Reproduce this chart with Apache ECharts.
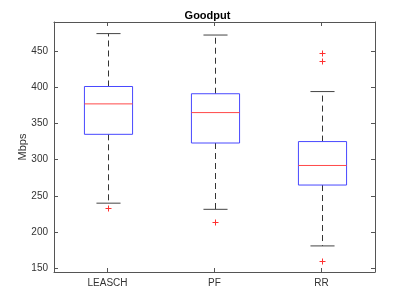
<!DOCTYPE html>
<html>
<head>
<meta charset="utf-8">
<script src="https://cdn.jsdelivr.net/npm/echarts@6/dist/echarts.min.js"></script>
<style>
html,body{margin:0;padding:0;background:#fff;}
#chart{width:415px;height:306px;}
</style>
</head>
<body>
<div id="chart"></div>
<script>
var categories = ['LEASCH', 'PF', 'RR'];
var lowerWhisker = [240, 231.5, 181];
var q1 = [335, 323, 265];
var median = [377, 365, 292];
var q3 = [401, 391, 325];
var upperWhisker = [474, 472, 394];
var outliers = [[0, 234], [1, 214], [2, 447], [2, 436], [2, 160.5]];
var yTicks = [150, 200, 250, 300, 350, 400, 450];

var boxData = categories.map(function (c, i) {
  return [i, lowerWhisker[i], q1[i], median[i], q3[i], upperWhisker[i]];
});

var chart = echarts.init(document.getElementById('chart'), null, {renderer: 'canvas'});
var axisColor = '#555';
var textColor = '#333';
var font = 'Liberation Sans, Arial, sans-serif';

function renderBox(params, api) {
  var i = api.value(0);
  var band = api.size([1, 0])[0];
  var boxW = band * 0.45;
  var capW = band * 0.225;
  var pLo = api.coord([i, api.value(1)]);
  var pQ1 = api.coord([i, api.value(2)]);
  var pMed = api.coord([i, api.value(3)]);
  var pQ3 = api.coord([i, api.value(4)]);
  var pHi = api.coord([i, api.value(5)]);
  var x = Math.round(pQ1[0]) + 0.5;
  var dashStyle = {stroke: '#333', lineWidth: 1, lineDash: [6, 4]};
  var capStyle = {stroke: '#444', lineWidth: 1};
  return {
    type: 'group',
    children: [
      {type: 'line', shape: {x1: x, y1: pQ3[1], x2: x, y2: pHi[1]}, style: dashStyle},
      {type: 'line', shape: {x1: x, y1: pQ1[1], x2: x, y2: pLo[1]}, style: dashStyle},
      {type: 'line', shape: {x1: x - capW / 2, y1: pHi[1], x2: x + capW / 2, y2: pHi[1]}, style: capStyle},
      {type: 'line', shape: {x1: x - capW / 2, y1: pLo[1], x2: x + capW / 2, y2: pLo[1]}, style: capStyle},
      {type: 'rect', shape: {x: x - boxW / 2, y: pQ3[1], width: boxW, height: pQ1[1] - pQ3[1]},
        style: {fill: 'rgba(0,0,0,0)', stroke: '#4848ff', lineWidth: 1}},
      {type: 'line', shape: {x1: x - boxW / 2, y1: pMed[1], x2: x + boxW / 2, y2: pMed[1]},
        style: {stroke: '#ff4848', lineWidth: 1}}
    ]
  };
}

function renderOutlier(params, api) {
  var p = api.coord([api.value(0), api.value(1)]);
  var x = Math.round(p[0]) + 0.5;
  var y = Math.round(p[1]) + 0.5;
  var r = 3;
  var st = {stroke: '#ff3030', lineWidth: 1};
  return {
    type: 'group',
    children: [
      {type: 'line', shape: {x1: x - r, y1: y, x2: x + r, y2: y}, style: st},
      {type: 'line', shape: {x1: x, y1: y - r, x2: x, y2: y + r}, style: st}
    ]
  };
}

var yCommon = {
  type: 'value', min: 145, max: 490,
  splitLine: {show: false},
  axisLine: {show: true, lineStyle: {color: axisColor}},
  axisTick: {show: true, inside: true, length: 4, customValues: yTicks, lineStyle: {color: axisColor}}
};

var option = {
  animation: false,
  backgroundColor: '#fff',
  title: {
    text: 'Goodput', left: 'center', top: 5,
    textStyle: {fontFamily: font, fontSize: 11, fontWeight: 'bold', color: '#000'}
  },
  grid: {left: 54, right: 40, top: 22, bottom: 34, containLabel: false},
  xAxis: [
    {
      type: 'category', data: categories, boundaryGap: true, position: 'bottom',
      axisLine: {show: true, lineStyle: {color: axisColor}},
      axisTick: {show: true, inside: true, length: 4, alignWithLabel: true, lineStyle: {color: axisColor}},
      axisLabel: {color: textColor, fontFamily: font, fontSize: 10, margin: 6},
      splitLine: {show: false}
    },
    {
      type: 'category', data: categories, boundaryGap: true, position: 'top',
      axisLine: {show: true, lineStyle: {color: axisColor}},
      axisTick: {show: true, inside: true, length: 4, alignWithLabel: true, lineStyle: {color: axisColor}},
      axisLabel: {show: false},
      splitLine: {show: false}
    }
  ],
  yAxis: [
    Object.assign({}, yCommon, {
      position: 'left',
      name: 'Mbps', nameLocation: 'middle', nameGap: 26, nameRotate: 90, nameMoveOverlap: false,
      nameTextStyle: {color: textColor, fontFamily: font, fontSize: 11},
      axisLabel: {show: true, customValues: yTicks, color: textColor, fontFamily: font, fontSize: 10, margin: 6}
    }),
    Object.assign({}, yCommon, {
      position: 'right',
      axisLabel: {show: false}
    })
  ],
  series: [
    {
      type: 'custom', xAxisIndex: 0, yAxisIndex: 0,
      renderItem: renderBox,
      encode: {x: 0, y: [1, 2, 3, 4, 5]},
      data: boxData, z: 5
    },
    {
      type: 'custom', xAxisIndex: 0, yAxisIndex: 0,
      renderItem: renderOutlier,
      encode: {x: 0, y: 1},
      data: outliers, z: 6
    }
  ]
};
chart.setOption(option);
</script>
</body>
</html>
